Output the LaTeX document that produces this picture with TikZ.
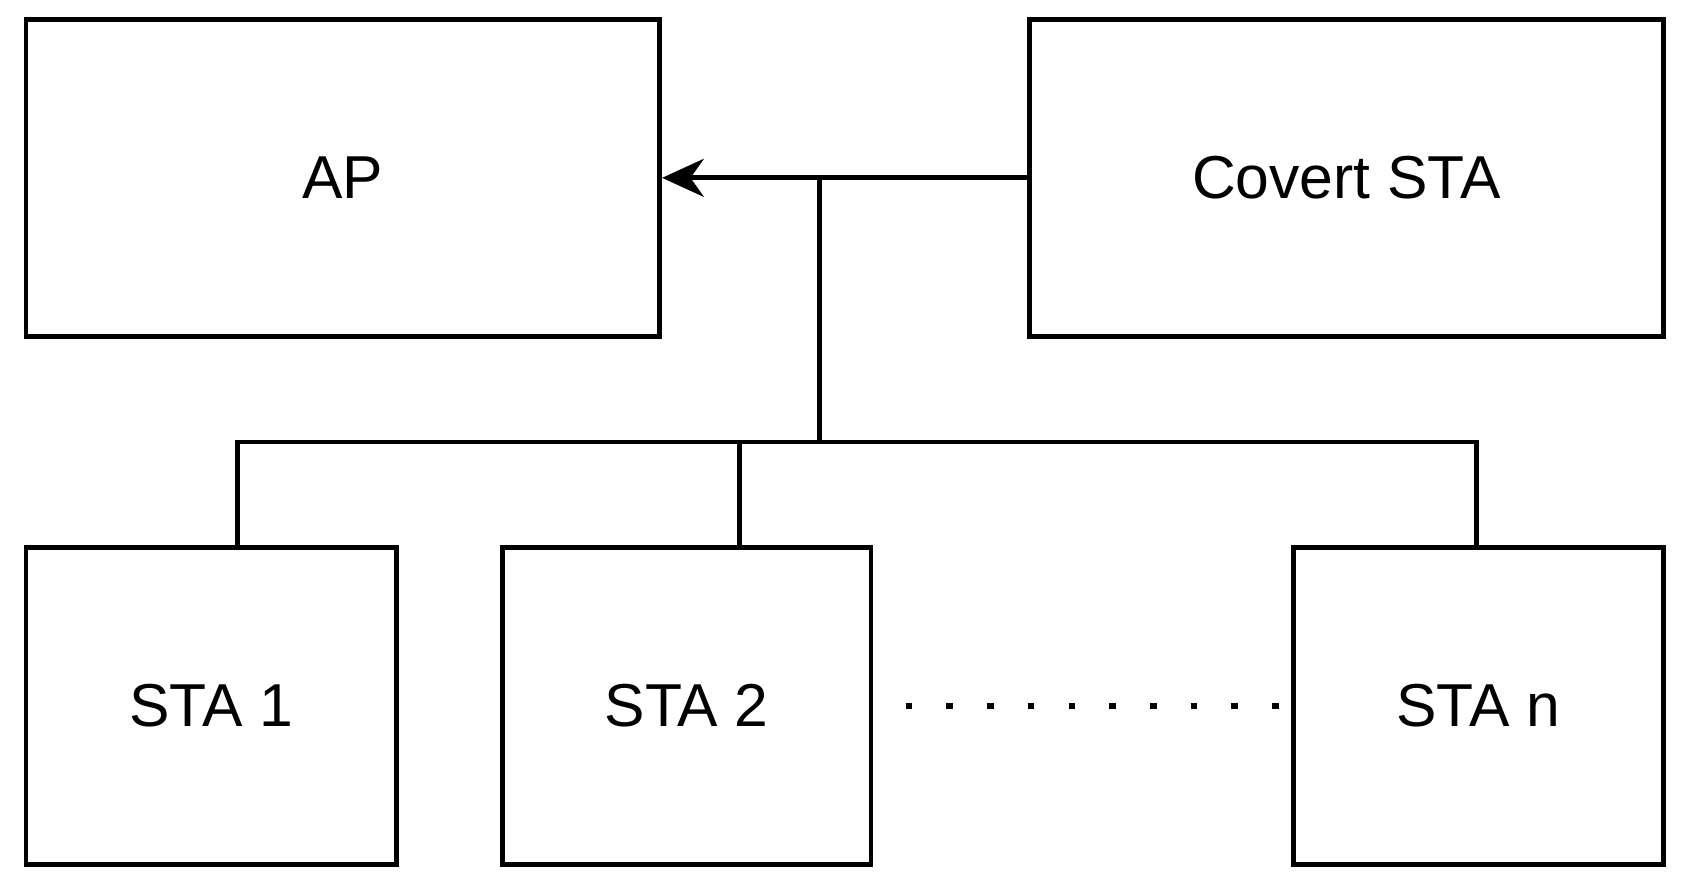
\documentclass[tikz,border=0pt]{standalone}
\usepackage{fontspec}
\setmainfont{Liberation Sans}
\usetikzlibrary{arrows.meta}
\begin{document}
\begin{tikzpicture}[x=0.02cm,y=-0.02cm,
  box/.style={draw,line width=2.5pt,inner sep=0pt,font=\fontsize{32}{36}\selectfont},
  conn/.style={line width=2.5pt}]
\useasboundingbox (0,0) rectangle (1565,830);
\node[box,minimum width=588*0.02cm,minimum height=294*0.02cm] (ap) at (318,165) {AP};
\node[box,minimum width=588*0.02cm,minimum height=294*0.02cm] (cov) at (1249,165) {Covert STA};
\node[box,minimum width=344*0.02cm,minimum height=294*0.02cm] (s1) at (196,655) {STA 1};
\node[box,minimum width=342*0.02cm,minimum height=294*0.02cm] (s2) at (637,655) {STA 2};
\node[box,minimum width=343*0.02cm,minimum height=294*0.02cm] (sn) at (1371.5,655) {STA n};
\coordinate (j) at (760,165);
\coordinate (k) at (760,410);
\draw[conn,-{Stealth[length=22pt,width=20pt,inset=7pt]}] (cov.west) -- (ap.east);
\draw[conn] (j) -- (k);
\draw[conn] (k) -| (220,508);
\draw[conn] (k) -| (686,508);
\draw[conn] (k) -| (1370,508);
\draw[line width=3.5pt,dash pattern=on 3.5pt off 18pt] (s2.east)++(30,0) -- (sn.west);
\end{tikzpicture}
\end{document}
